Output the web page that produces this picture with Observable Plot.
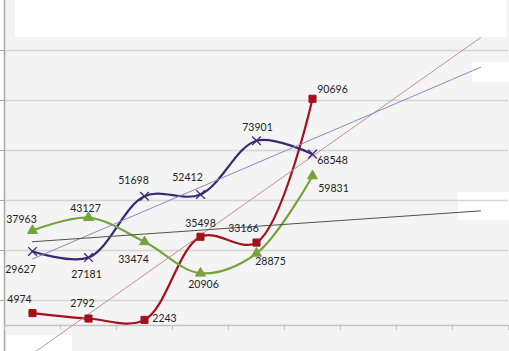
<!DOCTYPE html>
<html>
<head>
<meta charset="utf-8">
<script src="https://cdn.jsdelivr.net/npm/d3@7"></script>
<script src="https://cdn.jsdelivr.net/npm/@observablehq/plot@0.6"></script>
<style>
  html, body { margin: 0; padding: 0; background: #fff; }
  #wrap { position: relative; width: 509px; height: 351px; overflow: hidden; background: #fff; }
  .patch { position: absolute; }
  #chart { position: absolute; left: 0; top: 0; }
  #chart svg { background: transparent; }
</style>
</head>
<body>
<div id="wrap">
  <div class="patch" style="left:4px;top:0;width:505px;height:351px;background:#f4f4f4"></div>
  <div class="patch" style="left:15px;top:0;width:492px;height:37px;background:#fff"></div>
  <div class="patch" style="left:472px;top:62px;width:37px;height:20px;background:#fff"></div>
  <div class="patch" style="left:458px;top:192px;width:51px;height:28px;background:#fff"></div>
  <div class="patch" style="left:7px;top:335px;width:65px;height:16px;background:#fff"></div>
  <div id="chart"></div>
</div>
<script>
// Data
const categories = [1, 2, 3, 4, 5, 6];
const redValues = [4974, 2792, 2243, 35498, 33166, 90696];
const purpleValues = [29627, 27181, 51698, 52412, 73901, 68548];
const greenValues = [37963, 43127, 33474, 20906, 28875, 59831];
const axisCategories = [1, 2, 3, 4, 5, 6, 7, 8, 9];
const gridValues = [10000, 30000, 50000, 70000, 90000, 110000];
const trendEnd = 9;

// label offsets (styling)
const redOffsets = [[-13,-13],[-6,-15],[20,-1],[0,-13],[-13,-14],[20,-9]];
const purpleOffsets = [[-12,18],[-2,17],[-11,-16],[-13,-17],[1,-13],[20,6]];
const greenOffsets = [[-11,-11],[-3,-9],[-11,18],[3,11],[14,8],[21,13]];

const series = [
  {values: redValues, color: "#a3111c", trend: "#c49090", offsets: redOffsets, symbol: "square", r: 4, filled: true},
  {values: purpleValues, color: "#3a2a72", trend: "#9088b8", offsets: purpleOffsets, symbol: "times", r: 4, filled: false},
  {values: greenValues, color: "#77a33b", trend: "#4f5446", offsets: greenOffsets, symbol: "triangle", r: 3.7, filled: true}
];

function trend(values) {
  const xs = categories;
  const mx = d3.mean(xs), my = d3.mean(values);
  const sxy = d3.sum(xs, (x, i) => (x - mx) * (values[i] - my));
  const sxx = d3.sum(xs, x => (x - mx) ** 2);
  const b = sxy / sxx, a = my - b * mx;
  return [{x: xs[0], y: a + b * xs[0]}, {x: trendEnd, y: a + b * trendEnd}];
}

const first = 0.5, last = axisCategories[axisCategories.length - 1] + 0.5;
const marks = [
  // gridlines
  Plot.ruleY(gridValues, {x1: first, x2: last, stroke: "#d4d4d4", strokeWidth: 1.5}),
  // left axis and its ticks
  Plot.ruleX([first], {stroke: "#a8a8a8", strokeWidth: 1.5}),
  Plot.ruleY(gridValues, {x1: first, x2: first, stroke: "#a8a8a8", render: (index, scales, values, dims, context, next) => {
    const g = next(index, scales, values, dims, context);
    d3.select(g).selectAll("line").attr("x1", function() { return +this.getAttribute("x2") - 4; });
    return g;
  }}),
  // zero axis with category ticks
  Plot.ruleY([0], {x1: first, x2: last, stroke: "#c2c2c2", strokeWidth: 1.5}),
  Plot.ruleX(axisCategories.map(c => c - 0.5).concat([last]), {y1: 0, y2: -2000, stroke: "#c2c2c2"})
];

for (const s of series) {
  const pts = categories.map((c, i) => ({x: c, y: s.values[i]}));
  marks.push(Plot.line(pts, {x: "x", y: "y", stroke: s.color, strokeWidth: 2.2, curve: "catmull-rom"}));
}
for (const s of series) {
  marks.push(Plot.line(trend(s.values), {x: "x", y: "y", stroke: s.trend, strokeWidth: 1}));
}
for (const s of series) {
  const pts = categories.map((c, i) => ({x: c, y: s.values[i]}));
  marks.push(Plot.dot(pts, {
    x: "x", y: "y", symbol: s.symbol, r: s.r,
    fill: s.filled ? s.color : "none",
    stroke: s.color, strokeWidth: s.filled ? 1 : 1.3
  }));
  pts.forEach((p, i) => {
    marks.push(Plot.text([p], {
      x: "x", y: "y", text: d => String(d.y),
      dx: s.offsets[i][0], dy: s.offsets[i][1],
      fill: "#222", fontSize: 10.5, fontFamily: "Lato"
    }));
  });
}

const chart = Plot.plot({
  width: 509,
  height: 351,
  marginLeft: 0, marginRight: 0, marginTop: 0, marginBottom: 0,
  x: {type: "linear", domain: [first, last], range: [4, 508], axis: null},
  y: {domain: [-10400, 130000], range: [351, 0], axis: null},
  style: {background: "transparent", fontFamily: "Lato", overflow: "visible"},
  marks
});
document.getElementById("chart").appendChild(chart);
</script>
</body>
</html>
